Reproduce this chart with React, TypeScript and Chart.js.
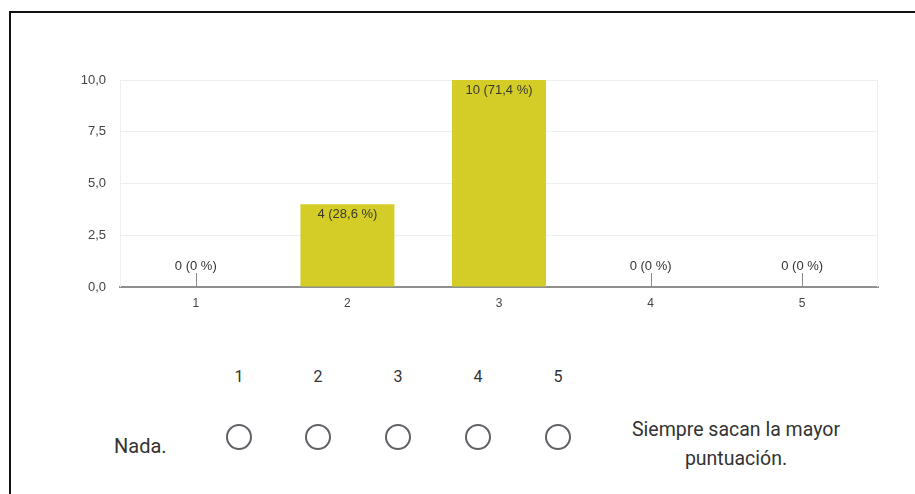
import React, { useEffect, useRef } from "react";
import { Chart, registerables } from "chart.js";

Chart.register(...registerables);

// Answer options on the 1–5 scale and how many responses each received
const categories = ["1", "2", "3", "4", "5"];
const counts = [0, 4, 10, 0, 0];
const yTicks = [0, 2.5, 5, 7.5, 10];
const scaleLabels = ["1", "2", "3", "4", "5"];
const lowAnchor = "Nada.";
const highAnchor = ["Siempre sacan la mayor", "puntuación."];

const BAR_COLOR = "#d4cd27";
const CHART_FONT = "'Liberation Sans', Arial, sans-serif";

const fmtComma = (v: number, digits: number) =>
  v.toFixed(digits).replace(".", ",");

const total = counts.reduce((a, b) => a + b, 0);
const pctLabel = (v: number) => {
  const p = total ? (v / total) * 100 : 0;
  const s = Number.isInteger(Math.round(p * 10) / 10) ? String(Math.round(p)) : fmtComma(p, 1);
  return `${v} (${s} %)`;
};

// Light frame around the plotting area
const framePlugin = {
  id: "frame",
  beforeDatasetsDraw(chart: any) {
    const { ctx, chartArea } = chart;
    ctx.save();
    ctx.strokeStyle = "#efefef";
    ctx.lineWidth = 1;
    ctx.beginPath();
    ctx.moveTo(chartArea.left + 0.5, chartArea.top);
    ctx.lineTo(chartArea.left + 0.5, chartArea.bottom);
    ctx.moveTo(chartArea.right - 0.5, chartArea.top);
    ctx.lineTo(chartArea.right - 0.5, chartArea.bottom);
    ctx.stroke();
    ctx.restore();
  },
};

// Count and percentage written on each bar
const valueLabelPlugin = {
  id: "valueLabels",
  afterDatasetsDraw(chart: any) {
    const { ctx } = chart;
    const meta = chart.getDatasetMeta(0);
    const yScale = chart.scales.y;
    const base = yScale.getPixelForValue(0);
    ctx.save();
    ctx.font = `13px ${CHART_FONT}`;
    ctx.textAlign = "center";
    meta.data.forEach((bar: any, i: number) => {
      const v = counts[i];
      const text = pctLabel(v);
      if (v > 0) {
        ctx.fillStyle = "#3a3a2a";
        ctx.textBaseline = "top";
        ctx.fillText(text, bar.x, bar.y + 4);
      } else {
        ctx.strokeStyle = "#8a8a8a";
        ctx.lineWidth = 1;
        ctx.beginPath();
        ctx.moveTo(Math.round(bar.x) + 0.5, base);
        ctx.lineTo(Math.round(bar.x) + 0.5, base - 14);
        ctx.stroke();
        ctx.fillStyle = "#333";
        ctx.textBaseline = "middle";
        ctx.fillText(text, bar.x, base - 21);
      }
    });
    ctx.restore();
  },
};

function BarChart() {
  const ref = useRef<HTMLCanvasElement | null>(null);
  useEffect(() => {
    if (!ref.current) return;
    const chart = new Chart(ref.current, {
      type: "bar",
      data: {
        labels: categories,
        datasets: [
          {
            data: counts,
            backgroundColor: BAR_COLOR,
            borderWidth: 0,
            barPercentage: 0.62,
            categoryPercentage: 1,
          },
        ],
      },
      options: {
        responsive: false,
        animation: false,
        layout: { padding: { top: 80, right: 37, left: 0, bottom: 0 } },
        plugins: {
          legend: { display: false },
          tooltip: { enabled: false },
        },
        scales: {
          x: {
            grid: { display: false, drawTicks: false },
            border: { color: "#8f8f8f", width: 2 },
            ticks: {
              padding: 9,
              color: "#444",
              font: { size: 12, family: CHART_FONT },
            },
            afterFit(scale: any) {
              scale.height = 43;
            },
          },
          y: {
            min: 0,
            max: 10,
            afterBuildTicks(scale: any) {
              scale.ticks = yTicks.map((value) => ({ value }));
            },
            grid: { color: "#efefef", drawTicks: false },
            border: { display: false },
            ticks: {
              padding: 14,
              color: "#444",
              font: { size: 13, family: CHART_FONT },
              callback: (v: any) => fmtComma(Number(v), 1),
            },
            afterFit(scale: any) {
              scale.width = 120;
            },
          },
        },
      },
      plugins: [framePlugin, valueLabelPlugin],
    });
    return () => chart.destroy();
  }, []);
  return (
    <canvas
      ref={ref}
      width={915}
      height={330}
      style={{ position: "absolute", left: 0, top: 0, width: 915, height: 330 }}
    />
  );
}

const scaleX = [239, 318, 398, 478, 558];
const textColor = "#333";
const uiFont = "Roboto, 'Noto Sans', sans-serif";

export default function App() {
  return (
    <div
      style={{
        position: "fixed",
        left: 0,
        top: 0,
        width: 915,
        height: 494,
        background: "#fff",
        overflow: "hidden",
        fontFamily: uiFont,
      }}
    >
      <BarChart />
      {/* frame edges */}
      <div style={{ position: "absolute", left: 9, top: 11, width: 906, height: 2, background: "#111" }} />
      <div style={{ position: "absolute", left: 9, top: 11, width: 2, height: 483, background: "#111" }} />

      {scaleLabels.map((s, i) => (
        <div
          key={"n" + s}
          style={{
            position: "absolute",
            left: scaleX[i] - 20,
            width: 40,
            top: 369,
            lineHeight: "16px",
            fontSize: 16,
            textAlign: "center",
            color: textColor,
          }}
        >
          {s}
        </div>
      ))}
      {scaleLabels.map((s, i) => (
        <div
          key={"c" + s}
          style={{
            position: "absolute",
            left: scaleX[i] - 13,
            top: 424,
            width: 26,
            height: 26,
            boxSizing: "border-box",
            border: "2px solid #5f6368",
            borderRadius: "50%",
          }}
        />
      ))}
      <div
        style={{
          position: "absolute",
          left: 114,
          top: 436,
          fontSize: 20,
          lineHeight: "20px",
          color: textColor,
          whiteSpace: "nowrap",
        }}
      >
        {lowAnchor}
      </div>
      <div
        style={{
          position: "absolute",
          left: 616,
          width: 240,
          top: 415,
          fontSize: 19.5,
          lineHeight: "29px",
          textAlign: "center",
          color: textColor,
        }}
      >
        {highAnchor.map((t) => (
          <div key={t}>{t}</div>
        ))}
      </div>
    </div>
  );
}
